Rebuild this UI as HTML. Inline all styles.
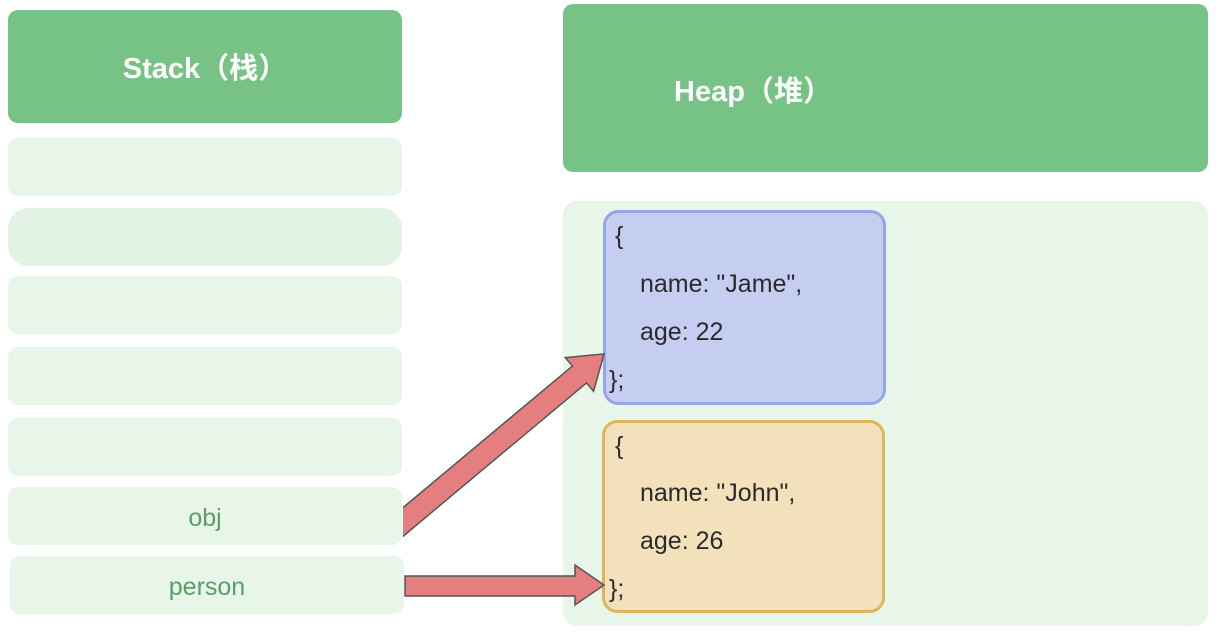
<!DOCTYPE html>
<html><head><meta charset="utf-8"><style>
body{margin:0;background:#fff;width:1220px;height:631px;overflow:hidden}
</style></head><body>
<svg width="1220" height="631" viewBox="0 0 1220 631" xmlns="http://www.w3.org/2000/svg" font-family="'Liberation Sans','Noto Sans CJK SC',sans-serif">
<rect x="8" y="10" width="394" height="113" rx="10" fill="#77c386"/>
<text x="205" y="78" text-anchor="middle" font-size="29" font-weight="bold" fill="#fff">Stack（栈）</text>
<rect x="8" y="138" width="394" height="58" rx="10" fill="#e8f5e9"/>
<rect x="8" y="208" width="394" height="58" rx="20" fill="#e2f2e5"/>
<rect x="8" y="276" width="394" height="58" rx="10" fill="#e8f5e9"/>
<rect x="8" y="347" width="394" height="58" rx="10" fill="#e8f5e9"/>
<rect x="8" y="418" width="394" height="58" rx="10" fill="#e8f5e9"/>
<rect x="8" y="487" width="394" height="58" rx="10" fill="#e8f5e9"/>
<rect x="10" y="556" width="394" height="58" rx="10" fill="#e8f5e9"/>
<text x="205" y="526" text-anchor="middle" font-size="25" fill="#5a9e68">obj</text>
<text x="207" y="595" text-anchor="middle" font-size="25" fill="#5a9e68">person</text>
<rect x="563" y="4" width="645" height="168" rx="10" fill="#77c386"/>
<text x="753" y="101" text-anchor="middle" font-size="29" font-weight="bold" fill="#fff">Heap（堆）</text>
<rect x="563" y="201" width="645" height="425" rx="14" fill="#e8f5e9"/>
<rect x="604.5" y="211.5" width="280" height="192" rx="14" fill="#c5cdf0" stroke="#96a4e8" stroke-width="3"/>
<g font-size="25" fill="#2b2b2b">
<text x="615" y="244">{</text>
<text x="640" y="292">name: "Jame",</text>
<text x="640" y="340">age: 22</text>
<text x="609" y="388">};</text>
</g>
<rect x="603.5" y="421.5" width="280" height="190" rx="14" fill="#f2e1bb" stroke="#e0b45a" stroke-width="3"/>
<g font-size="25" fill="#2b2b2b">
<text x="615" y="454">{</text>
<text x="640" y="501">name: "John",</text>
<text x="640" y="549">age: 26</text>
<text x="609" y="597">};</text>
</g>
<defs><clipPath id="c"><rect x="403" y="0" width="300" height="631"/></clipPath></defs>
<g clip-path="url(#c)">
<polygon transform="translate(403,522) rotate(-39.9)" points="-20,-11 230,-11 230,-22 262,0 230,22 230,11 -20,11" fill="#e57f7f" stroke="#555" stroke-width="1.5"/>
</g>
<polygon points="405,576 575,576 575,565 604,585 575,605 575,596 405,596" fill="#e57f7f" stroke="#555" stroke-width="1.5"/>
</svg>
</body></html>
